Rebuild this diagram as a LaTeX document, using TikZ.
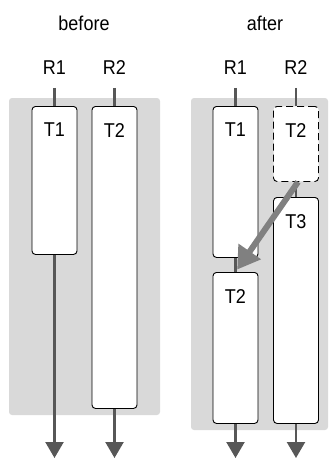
\documentclass[tikz,border=0pt]{standalone}
\usepackage{fontspec}
\setsansfont{Liberation Sans}[FakeStretch=0.9]
\usetikzlibrary{arrows.meta}
\definecolor{panel}{HTML}{D9D9D9}
\definecolor{rail}{HTML}{575757}
\definecolor{move}{HTML}{808080}

\begin{document}
\begin{tikzpicture}[
  x=1pt,y=-1pt,font=\sffamily\fontsize{20}{23}\selectfont,
  panel/.style={fill=panel,rounded corners=3pt},
  title/.style={inner sep=0pt},
  resource/.style={inner sep=0pt,outer ysep=13pt},
  task/.style={draw=black,line width=.9pt,fill=white,rounded corners=3.5pt,
    minimum width=45pt,inner sep=0pt,anchor=north,
    label={[anchor=north,inner sep=0pt,yshift=-17pt]north:#1}},
  ghost/.style={task=#1,dashed,dash pattern=on 7pt off 4pt},
  rail/.style={draw=rail,line width=2.2pt},
  flow/.style={rail,-{Triangle[length=16pt,width=18pt]}},
  migrate/.style={draw=move,line width=6pt,shorten >=3pt,
    -{Triangle[length=22pt,width=26pt]}}
]
\path[use as bounding box] (0,0) rectangle (336,459);

% two snapshots of the same pair of resources
\fill[panel] (9,98) rectangle (160,415);
\fill[panel] (191,98) rectangle (328,430);

\node[title] (before) at (84,23) {before};
\node[title] (after) at (265,23) {after};

% before
\node[resource] (r1) at (54.5,68) {R1};
\node[resource] (r2) at (114.5,68) {R2};
\node[task=T1,minimum height=148pt] (t1) at (54.5,106) {};
\node[task=T2,minimum height=302pt] (t2) at (114.5,106) {};
\coordinate (e1) at (54.5,458);
\coordinate (e2) at (114.5,458);
\draw[rail] (r1) -- (t1);
\draw[rail] (r2) -- (t2);
\draw[flow] (t1.south) -- (e1);
\draw[flow] (t2.south) -- (e2);

% after
\node[resource] (q1) at (235.5,68) {R1};
\node[resource] (q2) at (296,68) {R2};
\node[task=T1,minimum height=151pt] (u1) at (235.5,106) {};
\node[ghost=T2,minimum height=75pt] (old) at (296,106) {};
\node[task=T3,minimum height=226pt] (u3) at (296,197) {};
\node[task=T2,minimum height=151pt] (u2) at (235.5,272) {};
\coordinate (f1) at (235.5,458);
\coordinate (f2) at (296,458);
\draw[rail] (q1) -- (u1);
\draw[rail] (q2) -- (old);
\draw[rail] (u1) -- (u2);
\draw[rail] (old) -- (u3);
\draw[flow] (u2.south) -- (f1);
\draw[flow] (u3.south) -- (f2);

\draw[migrate] ([xshift=2pt]old.south) -- (u2.north);
\end{tikzpicture}
\end{document}
